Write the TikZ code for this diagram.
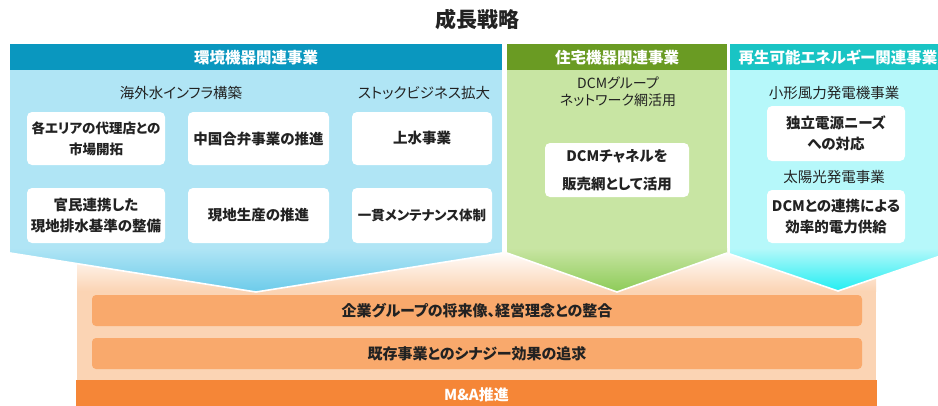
\documentclass[tikz,border=0pt]{standalone}
\usepackage{fontspec}
\setmainfont{Noto Sans CJK JP}[RawFeature=+palt]
\definecolor{hdrBlue}{HTML}{0A97BF}
\definecolor{bodyBlue}{HTML}{B0E5F5}
\definecolor{deepBlue}{HTML}{6CCBEA}
\definecolor{hdrGreen}{HTML}{6A9B23}
\definecolor{bodyGreen}{HTML}{C8E5A3}
\definecolor{deepGreen}{HTML}{8DCB58}
\definecolor{hdrTeal}{HTML}{19C4C4}
\definecolor{bodyTeal}{HTML}{B6F8FA}
\definecolor{deepTeal}{HTML}{1EEEF2}
\definecolor{peach}{HTML}{FBD4B4}
\definecolor{barOrange}{HTML}{F9A96C}
\definecolor{maOrange}{HTML}{F58637}
\definecolor{ink}{HTML}{222222}
\begin{document}
\begin{tikzpicture}[x=1pt,y=-1pt,
  hdrtext/.style={text=white,font=\fontsize{15.5}{18}\selectfont\bfseries},
  subtext/.style={text=ink,align=center,font=\fontsize{14.5}{17}\selectfont},
  card/.style={fill=white,rounded corners=5pt,align=center,inner sep=0pt,
    text=ink,font=\fontsize{14.5}{21}\selectfont\bfseries},
  bartext/.style={text=ink,font=\fontsize{15}{17}\selectfont\bfseries},
  chevronedge/.style={draw=white,line width=1.6pt}]
\useasboundingbox (0,0) rectangle (938,405);
\clip (0,0) rectangle (938,405);

% title
\node[font=\fontsize{21}{24}\selectfont\bfseries,text=ink] (title) at (477,19) {成長戦略};

% peach base behind the three segments
\fill[peach] (77,290) rectangle (876,380);
\shade[top color=white,bottom color=peach] (77,250) rectangle (876,291);

% --- environmental equipment segment ---
\begin{scope}
  \clip (10,70) -- (502,70) -- (502,253) -- (256,292) -- (10,253) -- cycle;
  \fill[bodyBlue] (10,70) rectangle (502,292);
  \shade[top color=bodyBlue,bottom color=deepBlue] (10,248) rectangle (502,292);
\end{scope}
\draw[chevronedge] (10,253) -- (256,292) -- (502,253);
\fill[hdrBlue] (10,44) rectangle (502,70);
\node[hdrtext] (envhdr) at (256,57.5) {環境機器関連事業};

% --- housing equipment segment ---
\begin{scope}
  \clip (507,70) -- (727,70) -- (727,253) -- (617,292) -- (507,253) -- cycle;
  \fill[bodyGreen] (507,70) rectangle (727,292);
  \shade[top color=bodyGreen,bottom color=deepGreen] (507,248) rectangle (727,292);
\end{scope}
\draw[chevronedge] (507,253) -- (617,292) -- (727,253);
\fill[hdrGreen] (507,44) rectangle (727,70);
\node[hdrtext] (houhdr) at (617,57.5) {住宅機器関連事業};

% --- renewable energy segment ---
\begin{scope}
  \clip (730,70) -- (946,70) -- (946,254) -- (838,291) -- (730,254) -- cycle;
  \fill[bodyTeal] (730,70) rectangle (946,292);
  \shade[top color=bodyTeal,bottom color=deepTeal] (730,248) rectangle (946,292);
\end{scope}
\draw[chevronedge] (730,254) -- (838,291) -- (946,254);
\fill[hdrTeal] (730,44) rectangle (946,70);
\node[hdrtext] (renhdr) at (838,57.5) {再生可能エネルギー関連事業};

% sub headings
\node[subtext] (infra) at (181,93) {海外水インフラ構築};
\node[subtext] (stock) at (424,93) {ストックビジネス拡大};
\node[subtext,font=\fontsize{14}{17}\selectfont] (dcm) at (618,91.5) {DCMグループ\\ネットワーク網活用};
\node[subtext] (wind) at (834,93) {小形風力発電機事業};
\node[subtext] (solar) at (834,177) {太陽光発電事業};

% cards: overseas water infrastructure / stock business
\node[card,minimum width=138pt,minimum height=53pt,font=\fontsize{13.5}{21}\selectfont\bfseries] (agent) at (96,138.5) {各エリアの代理店との\\市場開拓};
\node[card,minimum width=141pt,minimum height=53pt] (china) at (258.5,138.5) {中国合弁事業の推進};
\node[card,minimum width=140pt,minimum height=53pt] (water) at (422,138.5) {上水事業};
\node[card,minimum width=138pt,minimum height=55pt] (stdrd) at (96,215.5) {官民連携した\\現地排水基準の整備};
\node[card,minimum width=141pt,minimum height=55pt] (local) at (258.5,215.5) {現地生産の推進};
\node[card,minimum width=140pt,minimum height=55pt,font=\fontsize{13.5}{21}\selectfont\bfseries] (maint) at (422,215.5) {一貫メンテナンス体制};

% card: housing
\node[card,minimum width=144pt,minimum height=54pt,font=\fontsize{14.5}{28}\selectfont\bfseries] (chan) at (617,170) {DCMチャネルを\\販売網として活用};

% cards: renewable
\node[card,minimum width=138pt,minimum height=55pt] (indep) at (836,133.5) {独立電源ニーズ\\への対応};
\node[card,minimum width=138pt,minimum height=53pt] (supply) at (836,216.5) {DCMとの連携による\\効率的電力供給};

% common policy bars
\node[fill=barOrange,rounded corners=4pt,minimum width=770pt,minimum height=31pt,inner sep=0pt,bartext] (vision) at (477,310.5) {企業グループの将来像、経営理念との整合};
\node[fill=barOrange,rounded corners=4pt,minimum width=770pt,minimum height=31pt,inner sep=0pt,bartext] (synergy) at (477,353.5) {既存事業とのシナジー効果の追求};
\node[fill=maOrange,minimum width=801pt,minimum height=30pt,inner sep=0pt,anchor=north] (ma) at (476.5,380) {};
\node[text=white,font=\fontsize{15}{17}\selectfont\bfseries] (matext) at (476.5,395) {M\&A推進};
\end{tikzpicture}
\end{document}
